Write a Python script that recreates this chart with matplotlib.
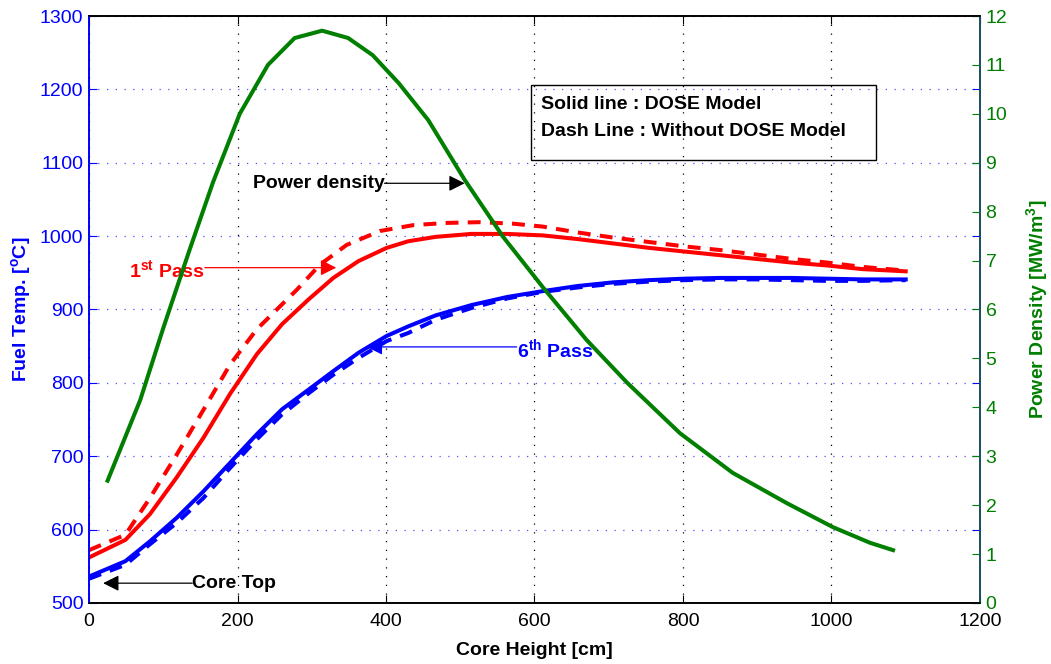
import numpy as np
import matplotlib
matplotlib.use("Agg")
import matplotlib.pyplot as plt
from matplotlib.patches import Rectangle

plt.rcParams["font.family"] = ["Liberation Sans", "DejaVu Sans"]
plt.rcParams["mathtext.fontset"] = "custom"
plt.rcParams["mathtext.rm"] = "Liberation Sans"
plt.rcParams["mathtext.bf"] = "Liberation Sans:bold"

# core height [cm] and fuel temperature [C]
first_solid_x = [0, 49, 82, 118, 154, 190, 226, 260, 296, 329, 363, 401, 430, 467,
                 515, 563, 611, 658, 706, 754, 802, 850, 898, 946, 994, 1042, 1100]
first_solid_t = [562, 586, 621, 671, 725, 785, 839, 880, 914, 943, 966, 984, 993, 999,
                 1003, 1003, 1001, 996, 990, 984, 979, 974, 969, 964, 960, 955, 952]

first_dash_x = [0, 49, 82, 118, 154, 190, 226, 260, 280, 311, 347, 392, 437, 482,
                526, 571, 611, 658, 706, 754, 802, 850, 898, 946, 994, 1042, 1100]
first_dash_t = [572, 593, 643, 702, 763, 825, 873, 907, 927, 961, 988, 1007, 1015, 1018,
                1019, 1017, 1013, 1005, 998, 992, 986, 981, 975, 969, 964, 958, 953]

sixth_solid_x = [0, 49, 82, 118, 154, 190, 226, 260, 296, 329, 363, 401, 430, 467,
                 515, 563, 611, 658, 706, 754, 802, 850, 898, 946, 994, 1042, 1100]
sixth_solid_t = [536, 557, 584, 616, 652, 691, 730, 764, 791, 816, 841, 864, 877, 892,
                 906, 917, 925, 932, 937, 940, 942, 943, 943, 943, 942, 941, 941]

sixth_dash_x = sixth_solid_x
sixth_dash_t = [533, 552, 580, 609, 643, 684, 723, 757, 786, 811, 834, 857, 868, 886,
                902, 915, 924, 930, 935, 938, 940, 941, 941, 940, 939, 939, 940]

# power density [MW/m3]
power_x = [25, 69, 100, 135, 167, 203, 241, 277, 314, 349, 382, 417, 457, 506,
           558, 611, 670, 725, 796, 867, 940, 1002, 1052, 1083]
power_d = [2.5, 4.15, 5.62, 7.2, 8.6, 10.0, 11.0, 11.55, 11.7, 11.55, 11.2, 10.63, 9.87, 8.65,
           7.48, 6.46, 5.38, 4.5, 3.47, 2.66, 2.04, 1.55, 1.23, 1.08]

x_ticks = [0, 200, 400, 600, 800, 1000, 1200]
t_ticks = [500, 600, 700, 800, 900, 1000, 1100, 1200, 1300]
p_ticks = list(range(0, 13))

BLUE = "#0000ff"
RED = "#ff0000"
GREEN = "#007f00"

fig = plt.figure(figsize=(10.51, 6.64), dpi=100)
ax = fig.add_axes([0.0847, 0.0919, 0.8477, 0.884])
ax2 = ax.twinx()

lw = 2.9
dash = (3.2, 2.3)
ax.plot(first_solid_x, first_solid_t, color=RED, lw=lw)
ax.plot(first_dash_x, first_dash_t, color=RED, lw=lw, dashes=dash)
ax.plot(sixth_solid_x, sixth_solid_t, color=BLUE, lw=lw)
ax.plot(sixth_dash_x, sixth_dash_t, color=BLUE, lw=lw, dashes=dash)
ax2.plot(power_x, power_d, color=GREEN, lw=lw)

ax.set_xlim(0, 1200)
ax.set_ylim(500, 1300)
ax2.set_ylim(0, 12)
ax.set_xticks(x_ticks)
ax.set_yticks(t_ticks)
ax2.set_yticks(p_ticks)

# dotted grid: blue for temperature rows, black for height columns
ax.yaxis.grid(True, color="#5050ff", linestyle=(0, (1, 6)), lw=0.9)
ax.xaxis.grid(True, color="black", linestyle=(0, (1, 6)), lw=0.9)

ax.tick_params(axis="x", direction="in", length=6, top=True, colors="black",
               labelsize=14, pad=7)
ax.tick_params(axis="y", direction="in", length=6, right=True, colors=BLUE,
               labelsize=14, pad=4)
ax2.tick_params(axis="y", direction="in", length=6, colors=GREEN, labelsize=14, pad=4)

ax.spines["left"].set_color(BLUE)
ax.spines["bottom"].set_color("black")
ax.spines["top"].set_color("black")
ax2.spines["right"].set_color("#1f5a6e")
ax2.spines["left"].set_color(BLUE)
for sp in list(ax.spines.values()) + list(ax2.spines.values()):
    sp.set_linewidth(1.2)

ax.set_xlabel("Core Height [cm]", fontsize=14, fontweight="bold", labelpad=9)
ax.set_ylabel("Fuel Temp. [$^{\\bf o}$C]", fontsize=14, fontweight="bold",
              color=BLUE, labelpad=4)
ax2.set_ylabel("Power Density [MW/m$^{\\bf 3}$]", fontsize=14, fontweight="bold",
               color=GREEN, labelpad=12)

txt = dict(fontsize=14, fontweight="bold", va="center")
arrow = dict(arrowstyle="-|>", lw=0.9, mutation_scale=24, shrinkA=0, shrinkB=0)


def pointer(label, tip, tail, text_y, color, ha):
    # horizontal arrow from the label edge to the curve
    ax.annotate("", xy=(tip, text_y[1]), xytext=(tail, text_y[1]),
                arrowprops=dict(color=color, **arrow))
    ax.text(tail, text_y[0], label, color=color, ha=ha, **txt)


pointer("Power density", 506, 398, (1072, 1072), "black", "right")
pointer("1$^{\\bf st}$ Pass", 333, 156, (953, 957), RED, "right")
pointer("6$^{\\bf th}$ Pass", 374, 576, (845, 849), BLUE, "left")
pointer("Core Top", 19, 139, (527, 527), "black", "left")

# model description box
ax.add_patch(Rectangle((595, 1104), 465, 102, fill=False, edgecolor="black",
                       lw=1.0, zorder=5))
ax.text(609, 1179, "Solid line : DOSE Model", ha="left", **txt)
ax.text(609, 1143, "Dash Line : Without DOSE Model", ha="left", **txt)

fig.savefig("out.png", dpi=100)
